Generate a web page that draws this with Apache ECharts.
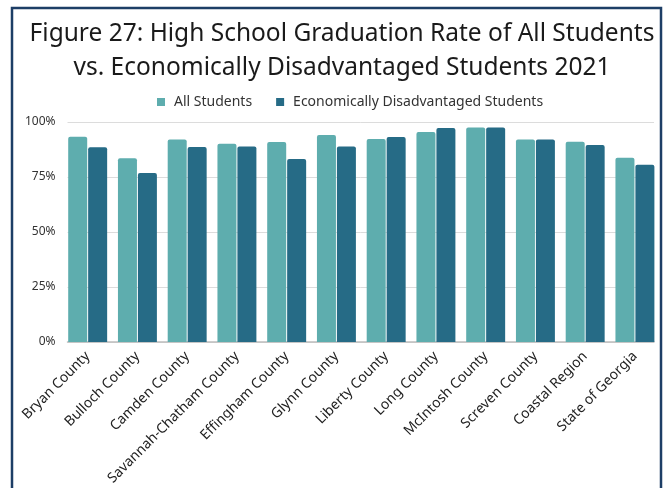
<!DOCTYPE html>
<html>
<head>
<meta charset="utf-8">
<script src="https://cdn.jsdelivr.net/npm/echarts@6/dist/echarts.min.js"></script>
<style>
  html, body { margin: 0; padding: 0; background: #ffffff; }
  #chart { width: 667px; height: 488px; }
</style>
</head>
<body>
<div id="chart"></div>
<script>
// Graduation rates (%) by area, 2021
const categories = [
  'Bryan County', 'Bulloch County', 'Camden County', 'Savannah-Chatham County',
  'Effingham County', 'Glynn County', 'Liberty County', 'Long County',
  'McIntosh County', 'Screven County', 'Coastal Region', 'State of Georgia'
];
const allStudents = [93.3, 83.5, 92.1, 90.1, 90.9, 94.1, 92.3, 95.5, 97.5, 92.1, 91.0, 83.8];
const econDisadvantaged = [88.5, 76.8, 88.6, 88.9, 83.2, 88.9, 93.2, 97.3, 97.5, 92.1, 89.5, 80.6];
const yTicks = [0, 25, 50, 75, 100];

const FONT = '"Noto Sans", sans-serif';
const chart = echarts.init(document.getElementById('chart'), null, { renderer: 'canvas' });

chart.setOption({
  backgroundColor: '#ffffff',
  animation: false,
  textStyle: { fontFamily: FONT },
  title: {
    text: 'Figure 27: High School Graduation Rate of All Students\nvs. Economically Disadvantaged Students 2021',
    left: 337,
    textAlign: 'center',
    top: 12,
    textStyle: { fontFamily: FONT, fontSize: 24.5, fontWeight: 'normal', color: '#1a1a1a', lineHeight: 34 }
  },
  legend: {
    top: 90,
    left: 152,
    itemWidth: 8,
    itemHeight: 8,
    itemGap: 24,
    icon: 'rect',
    textStyle: { fontFamily: FONT, fontSize: 14, color: '#333', padding: [0, 0, 0, 4] },
    data: ['All Students', 'Economically Disadvantaged Students']
  },
  graphic: [{
    type: 'rect',
    shape: { x: 12, y: 8, width: 649, height: 500 },
    style: { fill: 'none', stroke: '#1d3e66', lineWidth: 2.5 },
    silent: true
  }],
  grid: [
    // value grid: gridlines and percentage labels
    { left: 67.5, right: 13, top: 122, height: 220 },
    // bar grid: categories and bars
    { left: 62.8, right: 7.2, top: 122, height: 220 }
  ],
  xAxis: [
    {
      gridIndex: 0, type: 'category', data: categories,
      axisLine: { show: true, lineStyle: { color: '#bdbdbd', width: 1.5 } },
      axisTick: { show: false }, axisLabel: { show: false }
    },
    {
      gridIndex: 1, type: 'category', data: categories,
      axisLine: { show: false }, axisTick: { show: false },
      axisLabel: {
        rotate: 45, interval: 0, margin: 12,
        fontFamily: FONT, fontSize: 14, color: '#222'
      }
    }
  ],
  yAxis: [
    {
      gridIndex: 0, type: 'value', min: yTicks[0], max: yTicks[yTicks.length - 1], interval: 25,
      axisLine: { show: false }, axisTick: { show: false },
      axisLabel: { formatter: '{value}%', margin: 12, fontFamily: FONT, fontSize: 12, color: '#333' },
      splitLine: { lineStyle: { color: '#dcdcdc', width: 1 } }
    },
    {
      gridIndex: 1, type: 'value', min: 0, max: 100, interval: 25,
      show: false, splitLine: { show: false }
    }
  ],
  series: [
    {
      name: 'All Students', type: 'bar', xAxisIndex: 1, yAxisIndex: 1,
      data: allStudents, barWidth: 19, barGap: '5%',
      itemStyle: { color: '#5eadae', borderRadius: [2, 2, 0, 0] }
    },
    {
      name: 'Economically Disadvantaged Students', type: 'bar', xAxisIndex: 1, yAxisIndex: 1,
      data: econDisadvantaged, barWidth: 19,
      itemStyle: { color: '#266b86', borderRadius: [2, 2, 0, 0] }
    }
  ]
});
</script>
</body>
</html>
